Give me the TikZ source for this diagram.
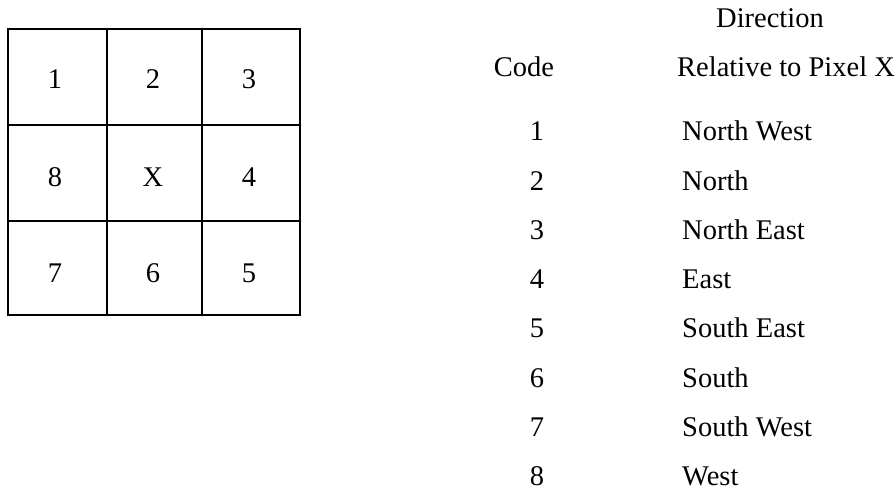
\documentclass[tikz,border=0pt]{standalone}
\usepackage{fontspec}
\setmainfont{Liberation Serif}
\begin{document}
\begin{tikzpicture}[x=1pt,y=-1pt,
  txt/.style={font=\fontsize{28.5}{30}\selectfont, inner sep=0pt},
  cell/.style={txt, anchor=base},
  grid line/.style={line width=2.2pt, line cap=rect}]
\useasboundingbox (0,0) rectangle (896,497);
% grid
\coordinate (g00) at (8,29);
\coordinate (g11) at (300,315);
\draw[grid line] (g00) rectangle (g11);
\draw[grid line] (107,29) -- (107,315);
\draw[grid line] (202,29) -- (202,315);
\draw[grid line] (8,125) -- (300,125);
\draw[grid line] (8,221) -- (300,221);
\node[cell] (c1) at (55,89) {1};
\node[cell] (c2) at (153,89) {2};
\node[cell] (c3) at (249,89) {3};
\node[cell] (c8) at (55,186) {8};
\node[cell] (cx) at (153,186) {X};
\node[cell] (c4) at (249,186) {4};
\node[cell] (c7) at (55,282) {7};
\node[cell] (c6) at (153,282) {6};
\node[cell] (c5) at (249,282) {5};
% table
\node[txt, anchor=base] (hdir) at (770,28) {Direction};
\node[txt, anchor=base] (hcode) at (524,77) {Code};
\node[txt, anchor=base] (hrel) at (786,77) {Relative to Pixel X};
\foreach \n/\d [count=\i from 0] in {1/North West,2/North,3/North East,4/East,5/South East,6/South,7/South West,8/West}{
  \node[txt, anchor=base] (k\n) at (537,{141+49.2*\i}) {\n};
  \node[txt, anchor=base west] (d\n) at (682,{141+49.2*\i}) {\d};
}
\end{tikzpicture}
\end{document}
